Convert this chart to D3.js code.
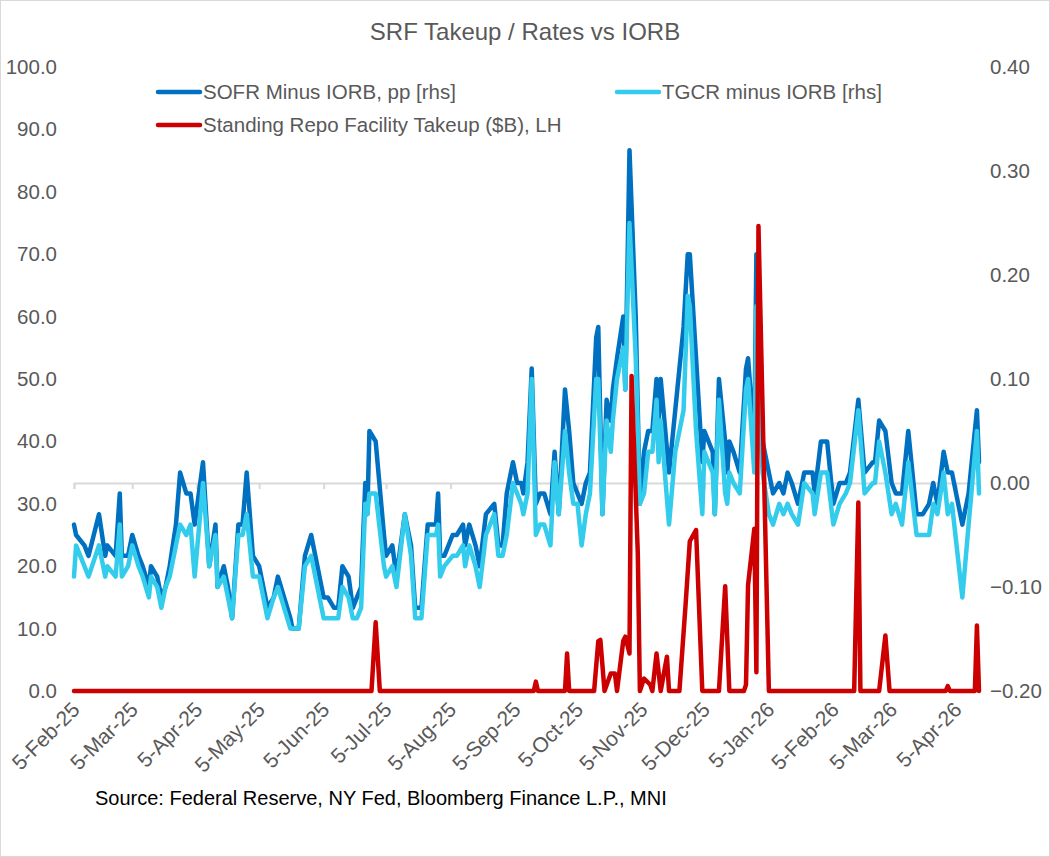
<!DOCTYPE html>
<html>
<head>
<meta charset="utf-8">
<script src="https://cdnjs.cloudflare.com/ajax/libs/d3/7.8.5/d3.min.js"></script>
<style>
  body { margin: 0; background: #fff; }
  text { font-family: "Liberation Sans", Arial, sans-serif; }
</style>
</head>
<body>
<div id="chart"></div>
<script>
// rate spreads vs IORB (pp)
var rateDates = ["2025-02-05","2025-02-06","2025-02-10","2025-02-12","2025-02-17","2025-02-20","2025-02-21","2025-02-25","2025-02-27","2025-02-28",
  "2025-03-03","2025-03-05","2025-03-08","2025-03-10","2025-03-13","2025-03-14","2025-03-17","2025-03-19","2025-03-21","2025-03-23",
  "2025-03-26","2025-03-28","2025-03-31","2025-04-02","2025-04-04","2025-04-08","2025-04-11","2025-04-14","2025-04-15","2025-04-18",
  "2025-04-20","2025-04-22","2025-04-25","2025-04-27","2025-04-29","2025-05-02","2025-05-05","2025-05-09","2025-05-12","2025-05-14",
  "2025-05-17","2025-05-20","2025-05-21","2025-05-24","2025-05-27","2025-05-30","2025-06-02","2025-06-05","2025-06-07","2025-06-10",
  "2025-06-12","2025-06-14","2025-06-17","2025-06-19","2025-06-21","2025-06-23","2025-06-25","2025-06-26","2025-06-27","2025-06-30",
  "2025-07-04","2025-07-05","2025-07-08","2025-07-10","2025-07-14","2025-07-17","2025-07-19","2025-07-22","2025-07-25","2025-07-29",
  "2025-07-30","2025-07-31","2025-08-02","2025-08-06","2025-08-08","2025-08-11","2025-08-12","2025-08-14","2025-08-17","2025-08-19",
  "2025-08-22","2025-08-26","2025-08-28","2025-08-30","2025-09-01","2025-09-04","2025-09-06","2025-09-08","2025-09-09","2025-09-11",
  "2025-09-13","2025-09-15","2025-09-17","2025-09-19","2025-09-22","2025-09-24","2025-09-26","2025-09-29","2025-10-01","2025-10-03",
  "2025-10-05","2025-10-07","2025-10-09","2025-10-11","2025-10-14","2025-10-15","2025-10-17","2025-10-19","2025-10-21","2025-10-22",
  "2025-10-24","2025-10-27","2025-10-28","2025-10-30","2025-11-02","2025-11-04","2025-11-06","2025-11-08","2025-11-10","2025-11-12",
  "2025-11-13","2025-11-14","2025-11-18","2025-11-21","2025-11-25","2025-11-27","2025-11-28","2025-12-01","2025-12-04","2025-12-05",
  "2025-12-09","2025-12-10","2025-12-12","2025-12-15","2025-12-16","2025-12-17","2025-12-19","2025-12-22","2025-12-25","2025-12-26",
  "2025-12-29","2025-12-30","2025-12-31","2026-01-02","2026-01-05","2026-01-07","2026-01-10","2026-01-12","2026-01-14","2026-01-16",
  "2026-01-19","2026-01-22","2026-01-26","2026-01-27","2026-01-30","2026-02-02","2026-02-05","2026-02-08","2026-02-11","2026-02-13",
  "2026-02-17","2026-02-20","2026-02-24","2026-02-25","2026-02-27","2026-03-02","2026-03-05","2026-03-07","2026-03-10","2026-03-13",
  "2026-03-17","2026-03-20","2026-03-23","2026-03-25","2026-03-27","2026-03-30","2026-04-01","2026-04-03","2026-04-08","2026-04-11",
  "2026-04-15","2026-04-16"];

var sofrMinusIorb = [-0.04,-0.05,-0.06,-0.07,-0.03,-0.07,-0.06,-0.07,-0.01,-0.07,
  -0.07,-0.05,-0.07,-0.08,-0.10,-0.08,-0.09,-0.11,-0.10,-0.08,
  -0.04,0.01,-0.01,-0.01,-0.04,0.02,-0.08,-0.04,-0.10,-0.08,
  -0.10,-0.13,-0.04,-0.04,0.01,-0.07,-0.08,-0.12,-0.11,-0.09,
  -0.11,-0.13,-0.14,-0.14,-0.07,-0.05,-0.08,-0.11,-0.11,-0.12,
  -0.12,-0.08,-0.09,-0.12,-0.11,-0.10,0.00,-0.03,0.05,0.04,
  -0.05,-0.07,-0.06,-0.09,-0.03,-0.06,-0.12,-0.12,-0.04,-0.04,
  -0.01,-0.07,-0.07,-0.05,-0.05,-0.04,-0.06,-0.04,-0.06,-0.08,
  -0.03,-0.02,-0.06,-0.06,-0.01,0.02,0.00,0.00,-0.01,0.02,
  0.11,-0.02,-0.01,-0.01,-0.03,0.03,-0.03,0.09,0.05,0.00,
  -0.01,-0.02,0.00,0.01,0.14,0.15,-0.03,0.08,0.06,0.09,
  0.12,0.16,0.09,0.32,0.16,-0.02,0.03,0.05,0.05,0.10,
  0.06,0.10,0.01,0.07,0.15,0.22,0.22,0.12,0.02,0.05,
  0.03,-0.03,0.10,0.04,0.01,0.04,0.03,0.01,0.11,0.12,
  0.04,0.22,0.13,0.04,0.01,-0.01,0.00,-0.01,0.01,0.00,
  -0.02,0.01,0.01,-0.01,0.04,0.04,-0.02,0.00,0.00,0.01,
  0.08,0.01,0.02,0.02,0.06,0.05,0.00,-0.01,-0.01,0.05,
  -0.03,-0.03,-0.02,0.00,-0.02,0.03,0.01,0.01,-0.04,-0.01,
  0.07,0.02];

var tgcrMinusIorb = [-0.09,-0.06,-0.08,-0.09,-0.06,-0.09,-0.08,-0.09,-0.04,-0.09,
  -0.08,-0.06,-0.08,-0.09,-0.11,-0.09,-0.10,-0.12,-0.10,-0.09,
  -0.06,-0.04,-0.05,-0.04,-0.09,0.00,-0.08,-0.05,-0.10,-0.09,
  -0.11,-0.13,-0.05,-0.05,-0.03,-0.09,-0.09,-0.13,-0.11,-0.10,
  -0.12,-0.14,-0.14,-0.14,-0.08,-0.07,-0.10,-0.13,-0.13,-0.13,
  -0.13,-0.10,-0.11,-0.13,-0.13,-0.12,-0.02,-0.03,-0.01,-0.01,
  -0.08,-0.09,-0.08,-0.10,-0.03,-0.07,-0.13,-0.13,-0.05,-0.05,
  -0.04,-0.09,-0.08,-0.07,-0.07,-0.06,-0.08,-0.06,-0.08,-0.10,
  -0.05,-0.03,-0.07,-0.07,-0.05,0.00,-0.01,-0.02,-0.03,-0.01,
  0.10,-0.05,-0.04,-0.04,-0.06,0.02,-0.03,0.05,0.01,-0.02,
  -0.02,-0.06,-0.03,-0.01,0.10,0.10,-0.03,0.06,0.03,0.06,
  0.10,0.13,0.09,0.25,0.12,-0.02,-0.01,0.03,0.03,0.08,
  0.02,0.06,-0.04,0.03,0.07,0.18,0.17,0.05,-0.03,0.03,
  0.01,-0.03,0.08,-0.01,-0.02,0.01,0.00,-0.01,0.09,0.10,
  0.01,0.17,0.08,0.01,-0.03,-0.04,-0.02,-0.03,-0.02,-0.03,
  -0.04,0.00,-0.01,-0.03,0.01,0.01,-0.04,-0.02,-0.01,0.00,
  0.07,-0.01,0.00,0.00,0.04,0.01,-0.03,-0.02,-0.04,0.02,
  -0.05,-0.05,-0.05,-0.02,-0.03,0.01,-0.03,-0.02,-0.11,-0.04,
  0.05,-0.01];

// standing repo facility takeup ($B)
var srfDates = ["2025-02-05","2025-06-28","2025-06-30","2025-07-02","2025-09-14","2025-09-15","2025-09-16","2025-09-29","2025-09-30","2025-10-01",
  "2025-10-13","2025-10-15","2025-10-16","2025-10-18","2025-10-21","2025-10-23","2025-10-24","2025-10-27","2025-10-28","2025-10-30",
  "2025-10-31","2025-11-03","2025-11-04","2025-11-06","2025-11-09","2025-11-10","2025-11-12","2025-11-14","2025-11-17","2025-11-18",
  "2025-11-23","2025-11-26","2025-11-28","2025-12-01","2025-12-04","2025-12-12","2025-12-15","2025-12-17","2025-12-24","2025-12-25",
  "2025-12-26","2025-12-29","2025-12-30","2025-12-31","2026-01-05","2026-02-15","2026-02-17","2026-02-18","2026-02-27","2026-03-02",
  "2026-03-04","2026-03-31","2026-04-01","2026-04-02","2026-04-14","2026-04-15","2026-04-16"];

var srfTakeup = [0,0,11,0,0,1.5,0,0,6,0,
  0,8,8.2,0,2.8,2.8,0,8,8.7,6,
  50.5,22,0,2,1,0,6,0,5.5,0,
  0,14,24,25.8,0,0,16.8,0,0,1,
  17,26,3,74.5,0,0,30.2,0,0,8.9,
  0,0,0.8,0,0,10.5,0];

var monthTicks = ["2025-02-05","2025-03-05","2025-04-05","2025-05-05","2025-06-05","2025-07-05","2025-08-05","2025-09-05",
  "2025-10-05","2025-11-05","2025-12-05","2026-01-05","2026-02-05","2026-03-05","2026-04-05"];
var leftTicks = [0,10,20,30,40,50,60,70,80,90,100];
var rightTicks = [-0.2,-0.1,0,0.1,0.2,0.3,0.4];

var W = 1050, H = 857;
var parse = d3.timeParse("%Y-%m-%d");
var fmtDate = d3.timeFormat("%-d-%b-%y");
var grey = "#595959";

var svg = d3.select("#chart").append("svg")
  .attr("width", W).attr("height", H);

svg.append("rect")
  .attr("x", 0.5).attr("y", 0.5).attr("width", W - 1).attr("height", H - 1)
  .attr("fill", "#fff").attr("stroke", "#d9d9d9");

// scales
var x = d3.scaleTime()
  .domain([parse("2025-02-05"), parse("2026-04-16")])
  .range([74, 979]);
var yL = d3.scaleLinear().domain([0, 100]).range([691, 67]);
var yR = d3.scaleLinear().domain([-0.2, 0.4]).range([691, 67]);

// title
svg.append("text")
  .attr("x", 525).attr("y", 40)
  .attr("text-anchor", "middle")
  .attr("font-size", 24)
  .attr("fill", grey)
  .text("SRF Takeup / Rates vs IORB");

// left axis
var gL = svg.append("g")
  .attr("transform", "translate(64,0)")
  .call(d3.axisLeft(yL).tickValues(leftTicks).tickFormat(d3.format(".1f")).tickSize(0).tickPadding(7));
gL.select(".domain").remove();
gL.selectAll("text").attr("font-size", 20.5).attr("fill", grey).style("font-family", "Liberation Sans, Arial, sans-serif");

// right axis
var gR = svg.append("g")
  .attr("transform", "translate(982,0)")
  .call(d3.axisRight(yR).tickValues(rightTicks).tickFormat(d3.format(".2f")).tickSize(0).tickPadding(8));
gR.select(".domain").remove();
gR.selectAll("text").attr("font-size", 20.5).attr("fill", grey).style("font-family", "Liberation Sans, Arial, sans-serif");

// date axis line sits on the rhs zero
var gX = svg.append("g")
  .attr("transform", "translate(0," + yR(0) + ")")
  .call(d3.axisBottom(x).tickValues(monthTicks.map(parse)).tickSize(6).tickFormat(""));
gX.select(".domain").attr("stroke", "#d9d9d9").attr("stroke-width", 2);
gX.selectAll(".tick line").attr("stroke", "#d9d9d9").attr("stroke-width", 2);

// date labels at the bottom
svg.append("g").selectAll("text")
  .data(monthTicks)
  .enter()
  .append("text")
  .attr("transform", function(d) { return "translate(" + (x(parse(d)) + 7) + ",711)rotate(-45)"; })
  .attr("text-anchor", "end")
  .attr("font-size", 21)
  .attr("fill", grey)
  .text(function(d) { return fmtDate(parse(d)); });

// lines
var rates = rateDates.map(function(d, i) {
  return { date: parse(d), sofr: sofrMinusIorb[i], tgcr: tgcrMinusIorb[i] };
});
var srf = srfDates.map(function(d, i) { return { date: parse(d), v: srfTakeup[i] }; });

var lineSofr = d3.line().x(function(d) { return x(d.date); }).y(function(d) { return yR(d.sofr); });
var lineTgcr = d3.line().x(function(d) { return x(d.date); }).y(function(d) { return yR(d.tgcr); });
var lineSrf = d3.line().x(function(d) { return x(d.date); }).y(function(d) { return yL(d.v); });

svg.append("path").datum(rates)
  .attr("d", lineSofr).attr("fill", "none")
  .attr("stroke", "#0070C0").attr("stroke-width", 4.5)
  .attr("stroke-linejoin", "round").attr("stroke-linecap", "round");
svg.append("path").datum(rates)
  .attr("d", lineTgcr).attr("fill", "none")
  .attr("stroke", "#33CCEC").attr("stroke-width", 4.5)
  .attr("stroke-linejoin", "round").attr("stroke-linecap", "round");
svg.append("path").datum(srf)
  .attr("d", lineSrf).attr("fill", "none")
  .attr("stroke", "#CC0000").attr("stroke-width", 4.5)
  .attr("stroke-linejoin", "round").attr("stroke-linecap", "round");

// legend
var legend = [
  { name: "SOFR Minus IORB, pp [rhs]", color: "#0070C0", x: 158, y: 92 },
  { name: "TGCR minus IORB [rhs]", color: "#33CCEC", x: 617, y: 92 },
  { name: "Standing Repo Facility Takeup ($B), LH", color: "#CC0000", x: 158, y: 125 }
];
var lg = svg.append("g").selectAll("g").data(legend).enter().append("g");
lg.append("line")
  .attr("x1", function(d) { return d.x; }).attr("x2", function(d) { return d.x + 42; })
  .attr("y1", function(d) { return d.y; }).attr("y2", function(d) { return d.y; })
  .attr("stroke", function(d) { return d.color; })
  .attr("stroke-width", 4.5).attr("stroke-linecap", "round");
lg.append("text")
  .attr("x", function(d) { return d.x + 45; })
  .attr("y", function(d) { return d.y + 7; })
  .attr("font-size", 20.5).attr("fill", grey)
  .text(function(d) { return d.name; });

// source
svg.append("text")
  .attr("x", 95).attr("y", 805)
  .attr("font-size", 20).attr("fill", "#000")
  .text("Source: Federal Reserve, NY Fed, Bloomberg Finance L.P., MNI");
</script>
</body>
</html>
